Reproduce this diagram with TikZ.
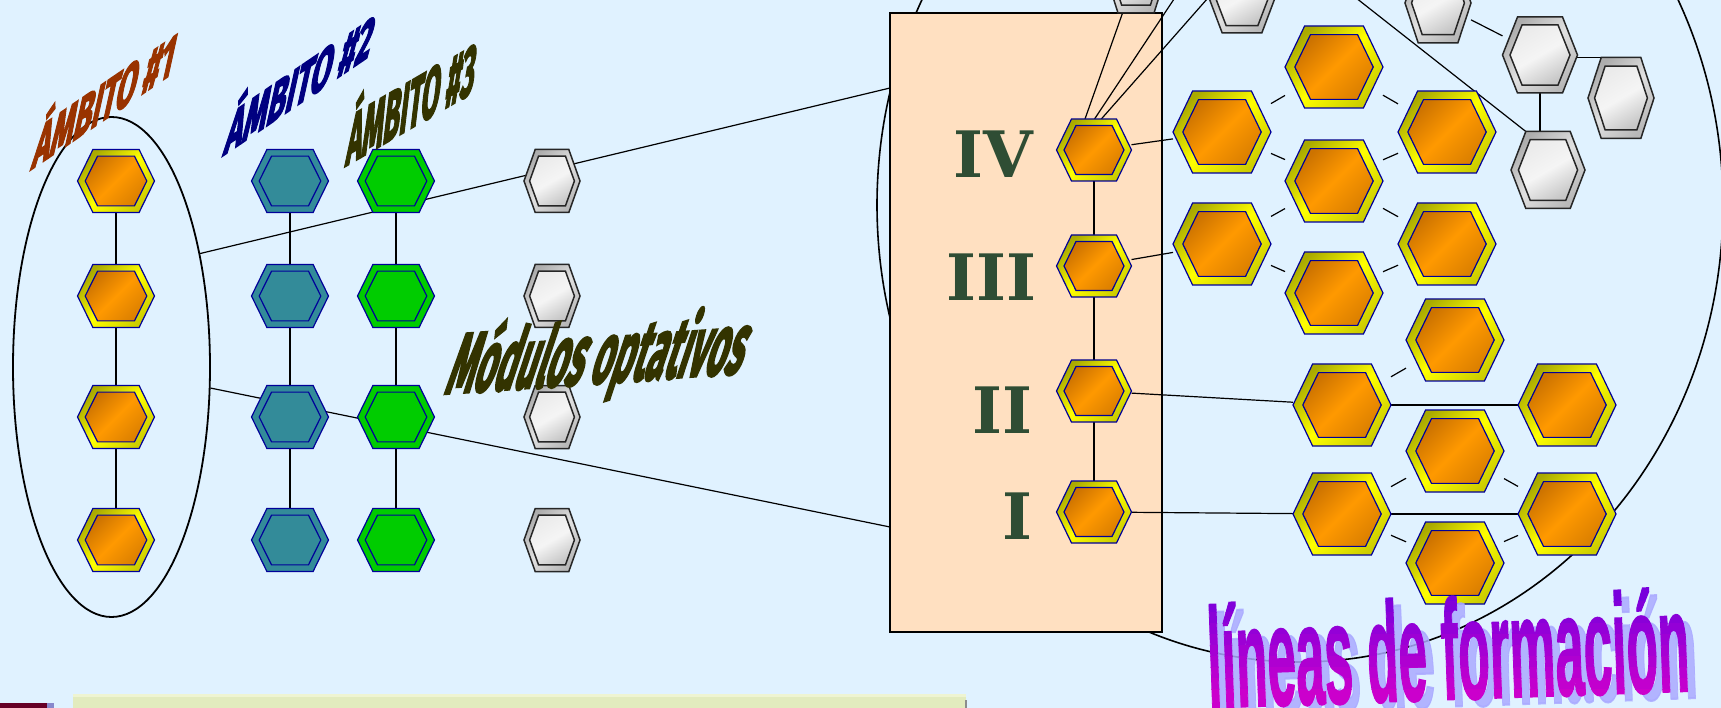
\documentclass[tikz,border=0pt]{standalone}
\usepackage{fontspec}
\usepackage{graphicx}
\setmainfont{Liberation Sans}
\newfontfamily\comicf{Fira Sans}[BoldFeatures={FakeBold=3.5}]
\newfontfamily\slabf{DejaVu Serif}
\newfontfamily\impactf{Liberation Sans}[BoldFeatures={FakeBold=1.5}]
\usetikzlibrary{shapes.geometric,calc}
\pgfdeclarelayer{back}
\pgfdeclarelayer{lines}
\pgfsetlayers{back,lines,main}

\definecolor{bgc}{RGB}{224,242,255}
\definecolor{peach}{RGB}{255,224,193}
\definecolor{hexblue}{RGB}{0,0,153}
\definecolor{tealc}{RGB}{51,139,153}
\definecolor{grnc}{RGB}{0,204,0}
\definecolor{ringdark}{RGB}{170,170,0}
\definecolor{ringdark2}{RGB}{205,205,0}
\definecolor{ringlight}{RGB}{255,255,0}
\definecolor{orgdark}{RGB}{205,115,0}
\definecolor{orgdark2}{RGB}{220,128,0}
\definecolor{orgmid}{RGB}{255,153,0}
\definecolor{romangreen}{RGB}{47,77,52}
\definecolor{amba}{RGB}{153,51,0}
\definecolor{ambb}{RGB}{0,0,128}
\definecolor{ambc}{RGB}{51,51,0}
\definecolor{lintop}{RGB}{120,0,220}
\definecolor{linbot}{RGB}{204,0,204}
\definecolor{linshadow}{RGB}{170,170,255}
\definecolor{palebox}{RGB}{226,235,190}
\definecolor{paletop}{RGB}{238,244,210}

\tikzset{
  hexanchor/.style={rectangle, inner sep=0pt, outer sep=0pt, draw=none},
  org outer/.style={draw=hexblue, line width=1.2pt, top color=ringdark, bottom color=ringdark2, middle color=ringlight, shading angle=45},
  org inner/.style={draw=hexblue, line width=1.2pt, top color=orgdark, bottom color=orgdark2, middle color=orgmid, shading angle=45},
  teal outer/.style={draw=hexblue, line width=1.2pt, fill=tealc},
  teal inner/.style={draw=hexblue, line width=1.2pt},
  grn outer/.style={draw=hexblue, line width=1.2pt, fill=grnc},
  grn inner/.style={draw=hexblue, line width=1.2pt},
  gry outer/.style={draw=black!85, line width=1.5pt, top color=black!32, bottom color=black!28, middle color=black!12, shading angle=45},
  gry inner/.style={draw=black!85, line width=1.5pt, top color=black!8, bottom color=black!22, middle color=black!4, shading angle=30},
  link/.style={draw=black, line width=1.2pt},
  ringline/.style={draw=black, line width=1.6pt},
  ambell/.style={ellipse, draw=black, line width=1.8pt, inner sep=0pt, minimum width=197pt, minimum height=500pt},
  panelbox/.style={rectangle, draw=black, line width=1.5pt, fill=peach, inner sep=0pt, minimum width=272pt, minimum height=619pt},
  roman/.style={text=romangreen, inner sep=0pt, font=\slabf\bfseries\fontsize{64}{64}\selectfont},
  wordart/.style={inner sep=0pt, cm={1,0.68,0.22,1,(0pt,0pt)}},
}

% name, x, y, width, height, kind
\newcommand\HX[6]{%
  \node[hexanchor, minimum width=#4pt, minimum height=#5pt] (#1) at (#2,#3) {};
  \path[#6 outer] ({#2-0.5*#4},#3) -- ({#2-0.3*#4},{#3-0.5*#5}) -- ({#2+0.3*#4},{#3-0.5*#5})
     -- ({#2+0.5*#4},#3) -- ({#2+0.3*#4},{#3+0.5*#5}) -- ({#2-0.3*#4},{#3+0.5*#5}) -- cycle;
  \path[#6 inner] ({#2-0.4*#4},#3) -- ({#2-0.24*#4},{#3-0.395*#5}) -- ({#2+0.24*#4},{#3-0.395*#5})
     -- ({#2+0.4*#4},#3) -- ({#2+0.24*#4},{#3+0.395*#5}) -- ({#2-0.24*#4},{#3+0.395*#5}) -- cycle;
}

\begin{document}
\begin{tikzpicture}[x=1pt,y=-1pt]
\useasboundingbox (0,0) rectangle (1721,708);

\begin{pgfonlayer}{back}
  \fill[bgc] (0,0) rectangle (1721,708);
  \draw[ringline] (1300,205) ellipse [x radius=423, y radius=457];
  \node[ambell] (amb1) at (111.5,367) {};
  \node[panelbox] (panel) at (1026,322.5) {};
  % bottom fragments
  \fill[palebox] (73,695) rectangle (966,712);
  \fill[paletop] (73,694) rectangle (966,697);
  \draw[black!45, line width=1.5pt] (966,700) -- (966,712);
  \fill[black!75!blue!60!red] (0,703) rectangle (47,712);
  \fill[linshadow!80!black] (47,703) rectangle (54,712);
\end{pgfonlayer}

\coordinate (p1) at (890,88);
\coordinate (p2) at (890,527);
\coordinate (t1) at (1180,-10);
\coordinate (t2) at (1215,-10);
\coordinate (t3) at (1351,-6);

% left columns
\HX{a1}{116}{181}{77}{63}{org}
\HX{a2}{116}{296}{77}{63}{org}
\HX{a3}{116}{417}{77}{63}{org}
\HX{a4}{116}{540}{77}{63}{org}
\HX{b1}{290}{181}{77}{63}{teal}
\HX{b2}{290}{296}{77}{63}{teal}
\HX{b3}{290}{417}{77}{63}{teal}
\HX{b4}{290}{540}{77}{63}{teal}
\HX{c1}{396}{181}{77}{63}{grn}
\HX{c2}{396}{296}{77}{63}{grn}
\HX{c3}{396}{417}{77}{63}{grn}
\HX{c4}{396}{540}{77}{63}{grn}
\HX{g1}{552}{181}{56}{63}{gry}
\HX{g2}{552}{296}{56}{63}{gry}
\HX{g3}{552}{417}{56}{63}{gry}
\HX{g4}{552}{540}{56}{63}{gry}

% column in the panel
\HX{r4}{1094}{150}{75}{62}{org}
\HX{r3}{1094}{266}{75}{62}{org}
\HX{r2}{1094}{391}{75}{62}{org}
\HX{r1}{1094}{512}{75}{62}{org}
\coordinate (r4s) at ($(r4.center)+(-20,0)$);

% grey modules, top right
\HX{gt1}{1136}{-25}{60}{76}{gry}
\HX{gt2}{1242}{-2}{66}{70}{gry}
\HX{gt3}{1438}{3}{66}{80}{gry}
\HX{g5}{1540}{55}{75}{76}{gry}
\HX{g6}{1621}{98}{66}{81}{gry}
\HX{g7}{1548}{170}{74}{77}{gry}

% big orange modules
\HX{A}{1222}{132}{98}{82}{org}
\HX{B}{1334}{67}{98}{82}{org}
\HX{C}{1447}{132}{98}{82}{org}
\HX{D}{1334}{181}{98}{82}{org}
\HX{E}{1222}{244}{98}{82}{org}
\HX{F}{1334}{293}{98}{82}{org}
\HX{G}{1447}{244}{98}{82}{org}
\HX{H}{1455}{340}{98}{82}{org}
\HX{J}{1342}{405}{98}{82}{org}
\HX{K}{1567}{405}{98}{82}{org}
\HX{L}{1455}{451}{98}{82}{org}
\HX{M}{1342}{514}{98}{82}{org}
\HX{N}{1567}{514}{98}{82}{org}
\HX{O}{1455}{563}{98}{82}{org}

\begin{pgfonlayer}{lines}
  \draw[link] (a1) -- (a4);
  \draw[link] (b1) -- (b4);
  \draw[link] (c1) -- (c4);
  \draw[link] (amb1.52) -- (p1);
  \draw[link] (amb1.-12) -- (p2);
  \draw[link] (r4) -- (r1);
  \draw[link] (r4s) -- (gt1);
  \draw[link] (r4s) -- (t1);
  \draw[link] (r4s) -- (t2);
  \draw[link] (r4) -- (A);
  \draw[link] (r3) -- (E);
  \draw[link] (r2) -- (J);
  \draw[link] (r1) -- (M);
  \draw[link] (A) -- (B);
  \draw[link] (A) -- (D);
  \draw[link] (B) -- (C);
  \draw[link] (C) -- (D);
  \draw[link] (D) -- (G);
  \draw[link] (D) -- (E);
  \draw[link] (E) -- (F);
  \draw[link] (F) -- (G);
  \draw[link] (J) -- (H);
  \draw[link] (J) -- (K);
  \draw[link] (M) -- (L);
  \draw[link] (M) -- (O);
  \draw[link] (M) -- (N);
  \draw[link] (L) -- (N);
  \draw[link] (O) -- (N);
  \draw[link] (gt3) -- (g5);
  \draw[link] (g5.center |- g6.north) -- (g6.north);
  \draw[link] (g5) -- (g5 |- g7);
  \draw[link] (t3) -- ($(g7.north)!0.6!(g7.north west)$);
\end{pgfonlayer}

% titles
\node[wordart, text=amba] (lab1) at (107,93) {\resizebox{140pt}{60pt}{\comicf\bfseries ÁMBITO \#1}};
\node[wordart, text=ambb] (lab2) at (302,77) {\resizebox{146pt}{60pt}{\comicf\bfseries ÁMBITO \#2}};
\node[inner sep=0pt, cm={1,0.58,0.12,1,(0pt,0pt)}, text=ambc] (lab3) at (413,95) {\resizebox{128pt}{70pt}{\comicf\bfseries ÁMBITO \#3}};
\node[inner sep=0pt, cm={1,0.07,0.33,1,(0pt,0pt)}, text=ambc] (opt) at (600,357) {\resizebox{296pt}{72pt}{\comicf\bfseries Módulos optativos}};

% roman numerals
\node[roman, anchor=east] (n4) at (1033,154) {IV};
\node[roman] (n3) at (991,277) {III};
\node[roman, anchor=east] (n2) at (1033,410) {II};
\node[roman, anchor=east] (n1) at (1033,516) {I};

% lineas de formacion
\node[rotate=2, text=linshadow, opacity=0.85, inner sep=0pt] (linsh) at (1456,655) {\resizebox{482pt}{104pt}{\impactf\bfseries líneas de formación}};
\foreach \i in {0,...,9} {
  \pgfmathtruncatemacro\pc{\i*11}
  \pgfmathsetmacro\ya{ifthenelse(\i==0,540,590+\i*11)}
  \pgfmathsetmacro\yb{ifthenelse(\i==9,730,601+\i*11)}
  \begin{scope}
    \clip (1150,\ya) rectangle (1750,\yb);
    \node[rotate=2, text=linbot!\pc!lintop, inner sep=0pt] at (1448,648) {\resizebox{482pt}{104pt}{\impactf\bfseries líneas de formación}};
  \end{scope}
}
\end{tikzpicture}
\end{document}
